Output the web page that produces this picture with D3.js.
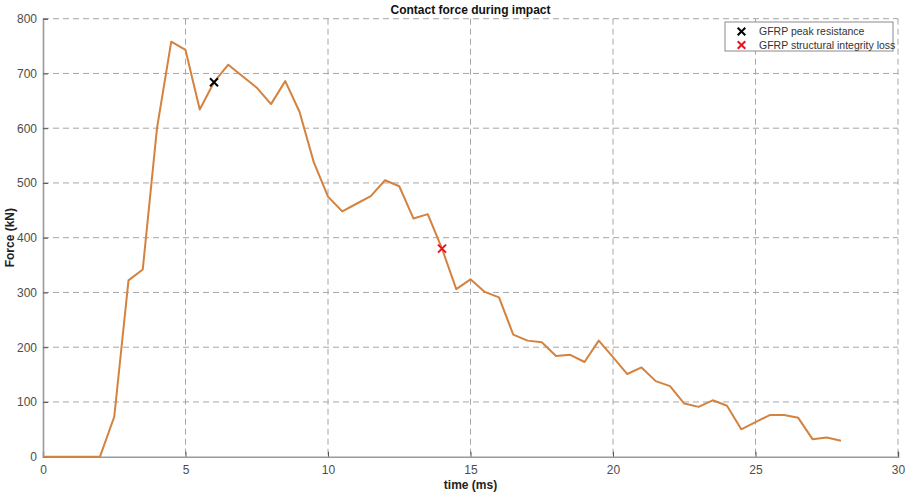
<!DOCTYPE html>
<html>
<head>
<meta charset="utf-8">
<script src="https://cdn.jsdelivr.net/npm/d3@7"></script>
<style>
  html, body { margin: 0; padding: 0; background: #ffffff; }
  svg { display: block; font-family: "Liberation Sans", Arial, Helvetica, sans-serif; }
</style>
</head>
<body>
<svg id="chart" width="906" height="492"></svg>
<script>
// Contact force history, sampled every 0.5 ms
const timeMs = [
  0, 0.5, 1, 1.5, 2, 2.5, 3, 3.5, 4, 4.5, 5, 5.5, 6, 6.5, 7, 7.5, 8, 8.5, 9, 9.5,
  10, 10.5, 11, 11.5, 12, 12.5, 13, 13.5, 14, 14.5, 15, 15.5, 16, 16.5, 17, 17.5,
  18, 18.5, 19, 19.5, 20, 20.5, 21, 21.5, 22, 22.5, 23, 23.5, 24, 24.5, 25, 25.5,
  26, 26.5, 27, 27.5, 28
];
const forceKN = [
  0, 0, 0, 0, 0, 73, 322, 342, 600, 758, 743, 634, 684, 716, 695, 674, 644, 686, 630, 538,
  475, 448, 462, 476, 505, 494, 435, 443, 380, 306, 324, 301, 291, 223, 212, 209,
  184, 186, 173, 212, 182, 151, 163, 138, 129, 97, 91, 103, 93, 50, 63, 76,
  76, 71, 32, 35, 29
];

// Event markers
const eventNames = ["GFRP peak resistance", "GFRP structural integrity loss"];
const eventTimes = [6, 14];
const eventForces = [684, 380];
const eventColors = ["#000000", "#e8141b"];

// Axis ticks
const xTicks = [0, 5, 10, 15, 20, 25, 30];
const yTicks = [0, 100, 200, 300, 400, 500, 600, 700, 800];

const W = 906, H = 492;
const margin = { top: 18.7, right: 8, bottom: 35.3, left: 43 };
const iw = W - margin.left - margin.right;
const ih = H - margin.top - margin.bottom;

const svg = d3.select("#chart");
const g = svg.append("g").attr("transform", `translate(${margin.left},${margin.top})`);

const x = d3.scaleLinear().domain([0, 30]).range([0, iw]);
const y = d3.scaleLinear().domain([0, 800]).range([ih, 0]);

const gridColor = "#a6a6a6";
const axisColor = "#9a9a9a";
const textColor = "#4d4d4d";

// Grid lines
g.append("g")
  .selectAll("line")
  .data(xTicks.filter(d => d > 0))
  .join("line")
  .attr("x1", d => x(d)).attr("x2", d => x(d))
  .attr("y1", 0).attr("y2", ih)
  .attr("stroke", gridColor).attr("stroke-width", 1)
  .attr("stroke-dasharray", "6,4");

g.append("g")
  .selectAll("line")
  .data(yTicks.filter(d => d > 0))
  .join("line")
  .attr("x1", 0).attr("x2", iw)
  .attr("y1", d => y(d)).attr("y2", d => y(d))
  .attr("stroke", gridColor).attr("stroke-width", 1)
  .attr("stroke-dasharray", "6,4");

// Axes (ticks pointing inward)
const xAxis = g.append("g")
  .attr("transform", `translate(0,${ih})`)
  .call(d3.axisBottom(x).tickValues(xTicks).tickSize(-5).tickPadding(9).tickFormat(d3.format("d")));
const yAxis = g.append("g")
  .call(d3.axisLeft(y).tickValues(yTicks).tickSize(-5).tickPadding(6).tickFormat(d3.format("d")));

[xAxis, yAxis].forEach(a => {
  a.select(".domain").attr("stroke", axisColor).attr("stroke-width", 1.6);
  a.selectAll(".tick line").attr("stroke", "#555555").attr("stroke-width", 1);
  a.selectAll(".tick text")
    .attr("fill", textColor)
    .style("font-size", "12px")
    .style("font-family", "'Liberation Sans', Arial, Helvetica, sans-serif");
});

// Force curve
const line = d3.line()
  .x((d, i) => x(timeMs[i]))
  .y(d => y(d));

g.append("path")
  .datum(forceKN)
  .attr("d", line)
  .attr("fill", "none")
  .attr("stroke", "#d4823f")
  .attr("stroke-width", 2)
  .attr("stroke-linejoin", "round");

// Cross markers
const cross = (sel, cx, cy, r, color) => {
  sel.append("line").attr("x1", cx - r).attr("y1", cy - r).attr("x2", cx + r).attr("y2", cy + r)
    .attr("stroke", color).attr("stroke-width", 2);
  sel.append("line").attr("x1", cx - r).attr("y1", cy + r).attr("x2", cx + r).attr("y2", cy - r)
    .attr("stroke", color).attr("stroke-width", 2);
};

const markers = g.append("g");
eventTimes.forEach((t, i) => {
  cross(markers, x(t), y(eventForces[i]), 4, eventColors[i]);
});

// Title and axis labels
svg.append("text")
  .attr("x", margin.left + iw / 2).attr("y", 14)
  .attr("text-anchor", "middle")
  .attr("fill", "#111111")
  .style("font-size", "12px").style("font-weight", "bold")
  .text("Contact force during impact");

svg.append("text")
  .attr("x", margin.left + iw / 2).attr("y", 489)
  .attr("text-anchor", "middle")
  .attr("fill", "#222222")
  .style("font-size", "12px").style("font-weight", "bold")
  .text("time (ms)");

svg.append("text")
  .attr("transform", `translate(14,${margin.top + ih / 2}) rotate(-90)`)
  .attr("text-anchor", "middle")
  .attr("fill", "#222222")
  .style("font-size", "12px").style("font-weight", "bold")
  .text("Force (kN)");

// Legend
const lg = svg.append("g").attr("transform", "translate(725,22)");
lg.append("rect")
  .attr("width", 168).attr("height", 29)
  .attr("fill", "#ffffff")
  .attr("stroke", "#8a8a8a").attr("stroke-width", 1);

eventNames.forEach((name, i) => {
  const cy = 9.5 + i * 13.5;
  cross(lg, 16.5, cy, 3.8, eventColors[i]);
  lg.append("text")
    .attr("x", 34).attr("y", cy + 3.8)
    .attr("fill", "#333333")
    .style("font-size", "10.5px")
    .text(name);
});
</script>
</body>
</html>
